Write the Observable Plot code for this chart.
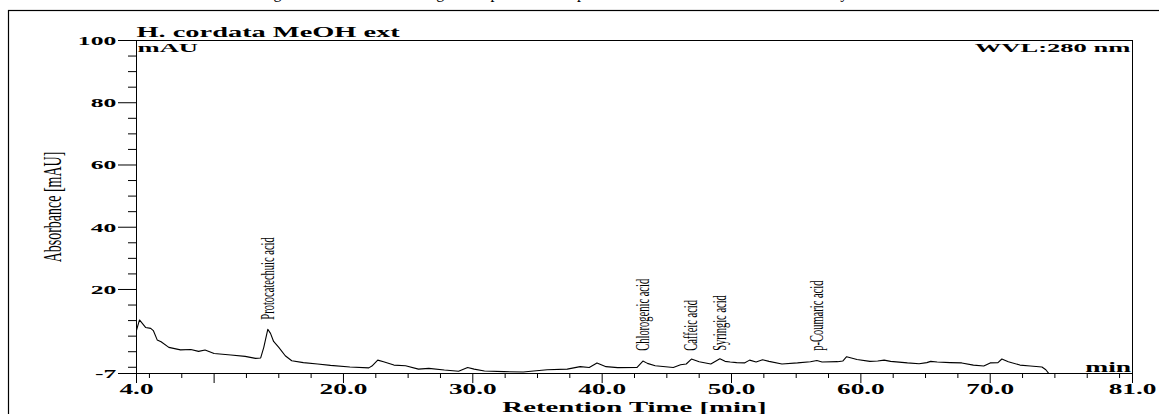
<!DOCTYPE html>
<html>
<head>
<meta charset="utf-8">
<script src="https://cdn.jsdelivr.net/npm/d3@7"></script>
<script src="https://cdn.jsdelivr.net/npm/@observablehq/plot@0.6"></script>
<style>
  html, body { margin: 0; padding: 0; background: white; overflow: hidden; }
  svg { display: block; }
</style>
</head>
<body>
<div id="chart"></div>
<script>
// ---- data ----
const caption = "Figure S2. HPLC chromatogram of phenolic compounds in the methanol extract of Houttuynia cordata";
const sampleName = "H. cordata MeOH ext";
const unitLabel = "mAU";
const wavelengthLabel = "WVL:280 nm";
const xUnit = "min";
const xTitle = "Retention Time [min]";
const yTitle = "Absorbance [mAU]";

const retentionTime = [4.0, 4.23, 4.7, 5.1, 5.3, 5.6, 5.9, 6.5, 7.4, 8.2, 8.8, 9.3, 10.0, 11.3, 12.4, 13.2, 13.6, 13.84, 14.15, 14.36, 14.6, 15.0, 15.5, 16.0, 16.9, 18.0, 19.0, 20.5, 21.96, 22.2, 22.65, 23.1, 23.9, 24.8, 25.8, 26.6, 27.8, 28.9, 29.6, 30.1, 30.9, 32.4, 33.9, 34.5, 35.75, 37.3, 38.3, 39.0, 39.6, 40.3, 41.2, 42.7, 43.15, 43.5, 44.1, 45.5, 46.06, 46.5, 46.9, 47.5, 48.4, 49.1, 49.5, 49.9, 50.4, 51.0, 51.4, 51.9, 52.4, 52.9, 53.9, 55.1, 56.1, 56.6, 57.0, 58.2, 58.6, 58.9, 59.7, 60.7, 61.3, 61.8, 62.3, 63.6, 64.5, 65.1, 65.4, 65.9, 66.9, 67.8, 68.7, 69.5, 70.0, 70.6, 70.9, 71.4, 72.3, 73.1, 74.0, 74.3, 74.6];
const absorbance = [6.9, 10.2, 7.8, 7.5, 6.8, 3.8, 3.2, 1.4, 0.6, 0.7, 0.1, 0.55, -0.55, -1.05, -1.5, -2.15, -2.0, 1.4, 7.2, 5.9, 3.3, 1.4, -1.3, -2.9, -3.5, -3.95, -4.4, -4.9, -5.2, -4.6, -2.7, -3.2, -4.3, -4.5, -5.6, -5.35, -5.9, -6.3, -5.05, -5.6, -6.2, -6.4, -6.5, -6.3, -5.8, -5.6, -4.8, -5.05, -3.6, -4.8, -5.1, -5.05, -3.0, -3.75, -4.5, -5.05, -4.2, -3.95, -2.35, -3.2, -3.95, -2.25, -3.1, -3.3, -3.5, -3.6, -2.7, -3.3, -2.6, -3.1, -3.95, -3.6, -3.2, -2.8, -3.3, -3.2, -3.0, -1.6, -2.5, -3.1, -3.0, -2.7, -3.1, -3.6, -3.85, -3.5, -3.1, -3.3, -3.5, -3.6, -4.3, -4.6, -3.6, -3.5, -2.35, -3.2, -4.3, -4.6, -4.9, -5.8, -7.4];

const peakNames = ["Protocatechuic acid", "Chlorogenic acid", "Caffeic acid", "Syringic acid", "p-Coumaric acid"];
const peakTimes = [14.15, 43.15, 46.9, 49.1, 56.6];
const peakLabelBase = [10.3, 0.3, 0.3, 0.3, 0.3];

const yMajorTicks = [-7, 20, 40, 60, 80, 100];
const yMinorTicks = [-5, 0, 5, 10, 15, 25, 30, 35, 45, 50, 55, 65, 70, 75, 85, 90, 95];
const xLabeledTicks = [4, 20, 30, 40, 50, 60, 70, 81];
const xMajorTicks = [4, 10, 20, 30, 40, 50, 60, 70, 81];
const xMinorTicks = [5, 7.5, 12.5, 15, 17.5, 22.5, 25, 27.5, 32.5, 35, 37.5, 42.5, 45, 47.5, 52.5, 55, 57.5, 62.5, 65, 67.5, 72.5, 75, 77.5, 80];

// ---- build ----
const trace = retentionTime.map((t, i) => ({t, v: absorbance[i]}));
const peaks = peakNames.map((name, i) => ({name, t: peakTimes[i], v: peakLabelBase[i]}));

const serif = "'Liberation Serif', 'Times New Roman', serif";

const chart = Plot.plot({
  width: 1159,
  height: 414,
  marginLeft: 136,
  marginRight: 27,
  marginTop: 40,
  marginBottom: 41,
  style: {fontFamily: serif, background: "white", color: "black", overflow: "hidden"},
  x: {domain: [4, 81], label: null},
  y: {domain: [-7, 100], label: null},
  marks: [
    Plot.frame({stroke: "black", strokeWidth: 1}),
    Plot.axisY(yMinorTicks, {tickSize: 8, tickFormat: () => ""}),
    Plot.axisY(yMajorTicks, {tickSize: 18, tickPadding: 2, tickFormat: d => String(d), fontSize: 13.5, fontWeight: "bold"}),
    Plot.axisX(xMinorTicks, {tickSize: 5, tickFormat: () => ""}),
    Plot.axisX(xMajorTicks, {tickSize: 10, tickFormat: () => ""}),
    Plot.axisX(xLabeledTicks, {tickSize: 0, tickPadding: 11, tickFormat: d => d.toFixed(1), fontSize: 14, fontWeight: "bold"}),
    Plot.line(trace, {x: "t", y: "v", stroke: "black", strokeWidth: 1.1, clip: true}),
    Plot.text(peaks, {x: "t", y: "v", text: "name", rotate: -90, textAnchor: "start", fontSize: 10.5}),
    Plot.text([yTitle], {frameAnchor: "left", textAnchor: "middle", dx: -84, rotate: -90, fontSize: 14}),
    Plot.text([sampleName], {frameAnchor: "top-left", textAnchor: "start", lineAnchor: "bottom", dy: -4, fontSize: 14.2, fontWeight: "bold"}),
    Plot.text([unitLabel], {frameAnchor: "top-left", textAnchor: "start", lineAnchor: "top", dx: 1, dy: 2, fontSize: 13.3, fontWeight: "bold"}),
    Plot.text([wavelengthLabel], {frameAnchor: "top-right", textAnchor: "end", lineAnchor: "top", dx: -2, dy: 2, fontSize: 13.3, fontWeight: "bold"}),
    Plot.text([xUnit], {frameAnchor: "bottom-right", textAnchor: "end", lineAnchor: "bottom", dx: -1, dy: -2, fontSize: 13.8, fontWeight: "bold"}),
    Plot.text([xTitle], {frameAnchor: "bottom", lineAnchor: "bottom", dy: 38, fontSize: 14.4, fontWeight: "bold"}),
    Plot.text([caption], {frameAnchor: "top", lineAnchor: "bottom", dx: -45, dy: -43, fontSize: 16})
  ]
});

document.getElementById("chart").appendChild(chart);

// outer border of the figure panel
d3.select(chart).append("rect")
  .attr("x", 8.5).attr("y", 10.5).attr("width", 1160).attr("height", 420)
  .attr("fill", "none").attr("stroke", "black").attr("stroke-width", 1.2);

// the source picture is stretched horizontally; reproduce that on the text
function stretchNode(t, s, anchor) {
  const g = document.createElementNS("http://www.w3.org/2000/svg", "g");
  t.parentNode.insertBefore(g, t);
  g.appendChild(t);
  const b = g.getBBox();
  const ax = anchor === "start" ? b.x : anchor === "end" ? b.x + b.width : b.x + b.width / 2;
  g.setAttribute("transform", `translate(${ax},0) scale(${s},1) translate(${-ax},0)`);
}
const rules = new Map([
  [sampleName, [2.0, "start"]],
  [unitLabel, [2.0, "start"]],
  [wavelengthLabel, [2.0, "end"]],
  [xUnit, [2.0, "end"]],
  [xTitle, [2.0, "middle"]],
  [yTitle, [1.8, "middle"]]
]);
peakNames.forEach(n => rules.set(n, [1.75, "middle"]));
Array.from(chart.querySelectorAll("text")).forEach(t => {
  const txt = t.textContent;
  const grp = t.closest("g[aria-label]");
  const lab = grp ? grp.getAttribute("aria-label") : "";
  if (lab === "y-axis tick label" && txt) stretchNode(t, 1.9, "end");
  else if (lab === "x-axis tick label" && txt) stretchNode(t, 1.95, "middle");
  else if (rules.has(txt)) { const [s, a] = rules.get(txt); stretchNode(t, s, a); }
});
</script>
</body>
</html>
